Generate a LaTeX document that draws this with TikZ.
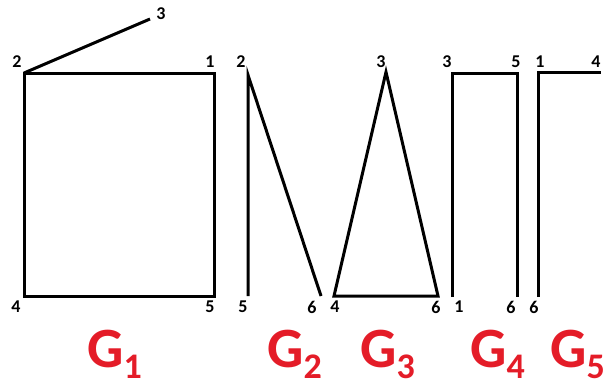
\documentclass[tikz,border=0pt]{standalone}
\usepackage{fontspec}
\setmainfont{Carlito}
\definecolor{gred}{RGB}{228,28,40}
\tikzset{
  edge/.style={line width=3pt},
  vlabel/.style={font=\bfseries\fontsize{18}{18}\selectfont, inner sep=0pt},
  gname/.style={font=\bfseries\fontsize{57}{57}\selectfont, text=gred, inner sep=0pt, anchor=base west},
}
\newcommand{\gsub}[1]{\raisebox{-11pt}{\fontsize{36}{36}\selectfont #1}}
\begin{document}
\begin{tikzpicture}[x=1pt, y=-1pt]
    \useasboundingbox (0,0) rectangle (604,381);

    % G1
    \coordinate (a1) at (214,73);
    \coordinate (a2) at (24,73);
    \coordinate (a3) at (150,19);
    \coordinate (a4) at (24,296);
    \coordinate (a5) at (214,296);
    \draw[edge] (a2) -- (a3);
    \draw[edge] (a2) -- (a1) -- (a5) -- (a4) -- cycle;
    \node[vlabel] (a1l) at (210,62) {1};
    \node[vlabel] (a2l) at (17,62) {2};
    \node[vlabel] (a3l) at (161,14) {3};
    \node[vlabel] (a4l) at (16,307) {4};
    \node[vlabel] (a5l) at (210,307) {5};

    % G2
    \coordinate (b2) at (248,75);
    \coordinate (b5) at (248,296);
    \coordinate (b6) at (321,296);
    \draw[edge] (b5) -- (b2) -- (b6);
    \node[vlabel] (b2l) at (241,62) {2};
    \node[vlabel] (b5l) at (243,307) {5};
    \node[vlabel] (b6l) at (312,307) {6};

    % G3
    \coordinate (c3) at (386,72);
    \coordinate (c4) at (334,296);
    \coordinate (c6) at (438,296);
    \draw[edge] (c3) -- (c4) -- (c6) -- cycle;
    \node[vlabel] (c3l) at (381,62) {3};
    \node[vlabel] (c4l) at (335,307) {4};
    \node[vlabel] (c6l) at (436,307) {6};

    % G4
    \coordinate (d1) at (452,297);
    \coordinate (d3) at (452,73);
    \coordinate (d5) at (517,73);
    \coordinate (d6) at (517,297);
    \draw[edge] (d1) -- (d3) -- (d5) -- (d6);
    \node[vlabel] (d3l) at (447,62) {3};
    \node[vlabel] (d5l) at (516,62) {5};
    \node[vlabel] (d1l) at (459,307) {1};
    \node[vlabel] (d6l) at (511,307) {6};

    % G5
    \coordinate (e1) at (538,72);
    \coordinate (e4) at (601,72);
    \coordinate (e6) at (538,297);
    \draw[edge] (e6) -- (e1) -- (e4);
    \node[vlabel] (e1l) at (540,62) {1};
    \node[vlabel] (e4l) at (596,62) {4};
    \node[vlabel] (e6l) at (534,307) {6};

    % graph names
    \node[gname] (g1) at (87,367) {G\gsub{1}};
    \node[gname] (g2) at (267,367) {G\gsub{2}};
    \node[gname] (g3) at (360,367) {G\gsub{3}};
    \node[gname] (g4) at (470,367) {G\gsub{4}};
    \node[gname] (g5) at (550,367) {G\gsub{5}};
\end{tikzpicture}
\end{document}
